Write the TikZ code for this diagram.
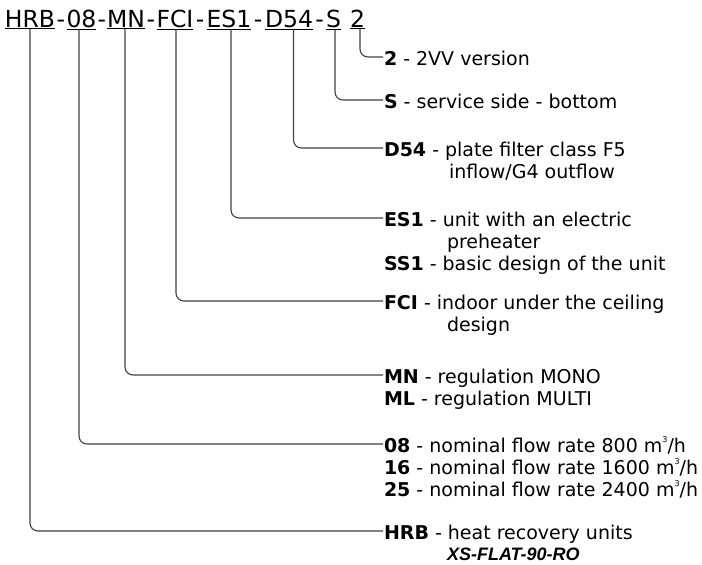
\documentclass[tikz,border=0pt]{standalone}
\usepackage{fontspec}
\usetikzlibrary{calc}
\setmainfont{DejaVu Sans}
\newfontfamily\arialf{Liberation Sans}
\newcommand\cubesup{\raisebox{0.5em}{\fontsize{8}{8}\selectfont 3}}
\begin{document}
\begin{tikzpicture}[x=1pt,y=-1pt,
 ttl/.style={inner sep=0pt, outer sep=0pt, anchor=base, font=\fontsize{23.5}{28}\selectfont},
 lbl/.style={inner sep=0pt, outer sep=0pt, anchor=base west, font=\fontsize{19}{22}\selectfont},
 conn/.style={draw=black!75, line width=1.1pt, rounded corners=8pt}]
\useasboundingbox (0,0) rectangle (702,565);
% title
\node[ttl] (hrb) at (30,27) {\underline{HRB}};
\node[ttl] (n08) at (81.5,27) {\underline{08}};
\node[ttl] (mn) at (126,27) {\underline{MN}};
\node[ttl] (fci) at (175,27) {\underline{FCI}};
\node[ttl] (es1) at (229,27) {\underline{ES1}};
\node[ttl] (d54) at (289,27) {\underline{D54}};
\node[ttl] (s) at (333.5,27) {\underline{S}};
\node[ttl] (two) at (357.5,27) {\underline{2}};
\foreach \a/\b/\n in {hrb/n08/1, n08/mn/2, mn/fci/3, fci/es1/4, es1/d54/5, d54/s/6}
  \node[ttl] (dash\n) at ($(\a.base east)!0.5!(\b.base west)$) {-};
% labels
\node[lbl] (t2) at (384,65) {\textbf{2} - 2VV version};
\node[lbl] (tS) at (384,108) {\textbf{S} - service side - bottom};
\node[lbl] (tD) at (384,156) {\textbf{D54} - plate filter class F5};
\node[lbl] (tD2) at (449,178) {inflow/G4 outflow};
\node[lbl] (tE) at (384,226) {\textbf{ES1} - unit with an electric};
\node[lbl] (tE2) at (447,248) {preheater};
\node[lbl] (tE3) at (384,270) {\textbf{SS1} - basic design of the unit};
\node[lbl] (tF) at (384,309) {\textbf{FCI} - indoor under the ceiling};
\node[lbl] (tF2) at (447,331) {design};
\node[lbl] (tM) at (384,383) {\textbf{MN} - regulation MONO};
\node[lbl] (tM2) at (384,405) {\textbf{ML} - regulation MULTI};
\node[lbl] (t08) at (384,452) {\textbf{08} - nominal flow rate 800 m\cubesup/h};
\node[lbl] (t16) at (384,474) {\textbf{16} - nominal flow rate 1600 m\cubesup/h};
\node[lbl] (t25) at (384,496) {\textbf{25} - nominal flow rate 2400 m\cubesup/h};
\node[lbl] (tH) at (384,539) {\textbf{HRB} - heat recovery units};
\node[lbl, font=\arialf\bfseries\itshape\fontsize{18}{22}\selectfont] (tH2) at (447,560) {XS-FLAT-90-RO};
% connectors
\draw[conn] ([xshift=2.5pt]two.south) |- ([shift={(-1pt,8pt)}]t2.base west);
\draw[conn] ([xshift=1.5pt]s.south) |- ([shift={(-1pt,8pt)}]tS.base west);
\draw[conn] ([xshift=4.5pt]d54.south) |- ([shift={(-1pt,8pt)}]tD.base west);
\draw[conn] ([xshift=2pt]es1.south) |- ([shift={(-1pt,8pt)}]tE.base west);
\draw[conn] ([xshift=1pt]fci.south) |- ([shift={(-1pt,8pt)}]tF.base west);
\draw[conn] ([xshift=-1pt]mn.south) |- ([shift={(-1pt,8pt)}]tM.base west);
\draw[conn] ([xshift=-2.5pt]n08.south) |- ([shift={(-1pt,8pt)}]t08.base west);
\draw[conn] (hrb.south) |- ([shift={(-1pt,8pt)}]tH.base west);
\end{tikzpicture}
\end{document}
